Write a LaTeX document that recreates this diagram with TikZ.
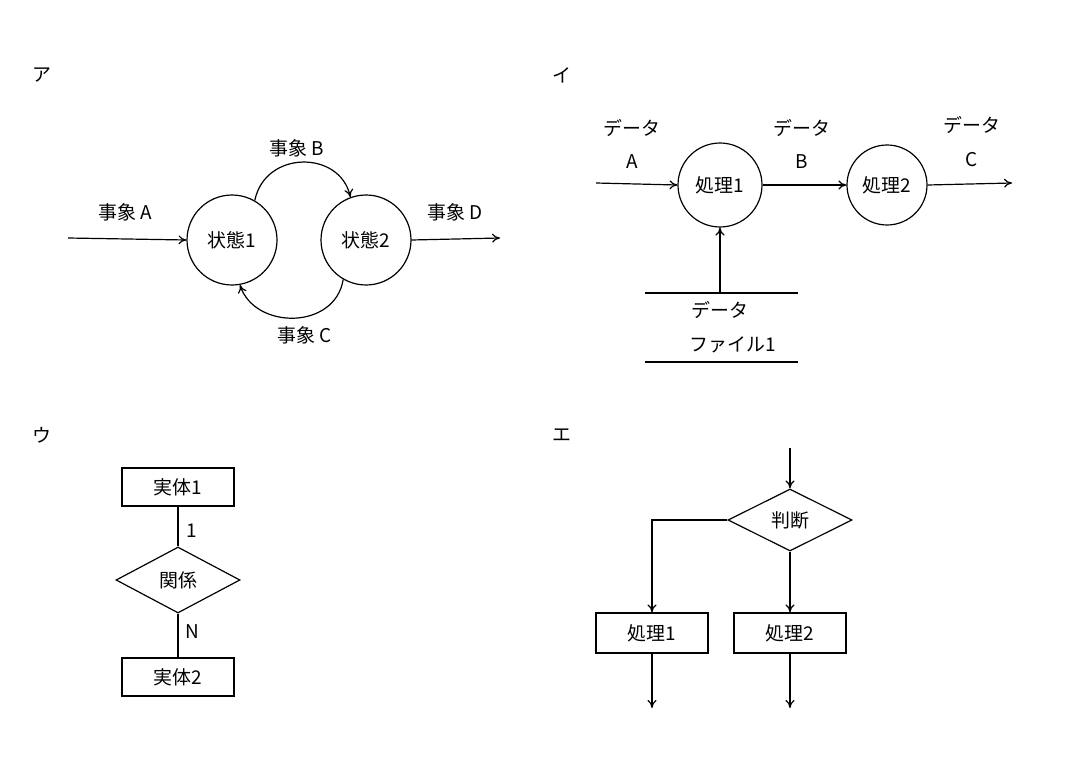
\documentclass[tikz,border=0pt]{standalone}
\usepackage{fontspec}
\setmainfont{Noto Sans CJK JP}
\usetikzlibrary{shapes.geometric,arrows.meta}
\begin{document}
\begin{tikzpicture}[x=1bp,y=-1bp,
  every node/.style={font=\fontsize{19}{22}\selectfont},
  ln/.style={line width=1.2pt},
  ar/.style={ln,-{To[length=8pt,width=9pt]}},
  st/.style={circle,draw,line width=1.2pt,minimum size=90bp,inner sep=0pt},
  bx/.style={rectangle,draw,line width=1.2pt,minimum width=112bp,minimum height=38bp},
  dm/.style={diamond,draw,line width=1.2pt,aspect=1.8,minimum width=124bp,minimum height=66bp,inner sep=0pt}]
\useasboundingbox (0,0) rectangle (1074,770);
% A
\node (la) at (42,75) {ア};
\node[st] (s1) at (232,240) {状態1};
\node[st] (s2) at (366,240) {状態2};
\coordinate (ain) at (68,238);
\coordinate (aout) at (500,238);
\draw[ar] (ain) -- (s1.west);
\draw[ar] (s2.east) -- (aout);
\node (eA) at (125,212) {事象\ A};
\node (eD) at (455,212) {事象\ D};
\draw[ar] (s1.60) .. controls (265,150) and (340,150) .. (s2.110);
\draw[ar] (s2.-120) .. controls (335,330) and (255,330) .. (s1.-80);
\node (eB) at (297,148) {事象\ B};
\node (eC) at (305,335) {事象\ C};
% I
\node (li) at (562,75) {イ};
\node[st,minimum size=84bp] (p1) at (720,185) {処理1};
\node[st,minimum size=80bp] (p2) at (887,185) {処理2};
\coordinate (iin) at (596,183);
\coordinate (iout) at (1012,183);
\draw[ar] (iin) -- (p1.west);
\draw[ar] (p1.east) -- (p2.west);
\draw[ar] (p2.east) -- (iout);
\node (d1) at (632,128) {データ};
\node (d1a) at (632,162) {A};
\node (d2) at (802,128) {データ};
\node (d2b) at (802,162) {B};
\node (d3) at (972,125) {データ};
\node (d3c) at (972,160) {C};
\coordinate (f1) at (645,293); \coordinate (f2) at (798,293);
\coordinate (f3) at (645,362); \coordinate (f4) at (798,362);
\coordinate (fa) at (720,293);
\draw[ln] (f1) -- (f2);
\draw[ln] (f3) -- (f4);
\draw[ar] (fa) -- (p1.south);
\node (ft1) at (720,310) {データ};
\node (ft2) at (733,345) {ファイル1};
% U
\node (lu) at (42,435) {ウ};
\node[bx] (e1) at (178,487) {実体1};
\node[dm] (rel) at (178,580) {関係};
\node[bx] (e2) at (178,677) {実体2};
\draw[ln] (e1) -- (rel.north);
\draw[ln] (rel.south) -- (e2);
\node (n1) at (192,531) {1};
\node (nN) at (192,632) {N};
% E
\node (le) at (562,435) {エ};
\node[dm,minimum height=62bp] (jd) at (790,520) {判断};
\node[bx,minimum height=40bp] (q1) at (652,633) {処理1};
\node[bx,minimum height=40bp] (q2) at (790,633) {処理2};
\coordinate (ein) at (790,448);
\coordinate (o1) at (652,708);
\coordinate (o2) at (790,708);
\draw[ar] (ein) -- (jd.north);
\draw[ar] (jd.west) -| (q1.north);
\draw[ar] (jd.south) -- (q2.north);
\draw[ar] (q1.south) -- (o1);
\draw[ar] (q2.south) -- (o2);
\end{tikzpicture}
\end{document}
